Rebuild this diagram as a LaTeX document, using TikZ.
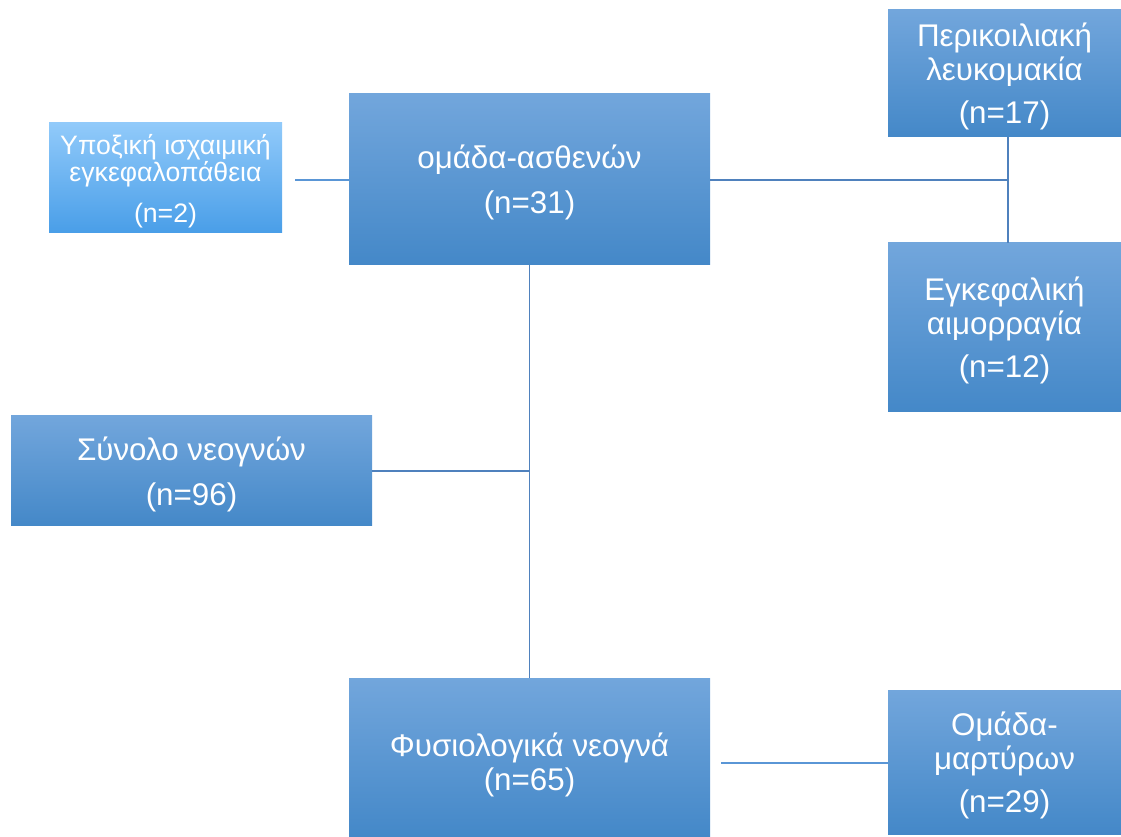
\documentclass[tikz,border=0pt]{standalone}
\usepackage{fontspec}
\setmainfont{Liberation Sans}
\definecolor{btop}{RGB}{114,166,220}
\definecolor{bmid}{RGB}{84,155,222}
\definecolor{bbot}{RGB}{68,136,200}
\definecolor{ltop}{RGB}{145,202,250}
\definecolor{lmid}{RGB}{108,180,242}
\definecolor{lbot}{RGB}{73,158,232}
\definecolor{linec}{RGB}{79,129,189}
\definecolor{linel}{RGB}{90,150,214}
\begin{document}
\begin{tikzpicture}[x=0.75pt,y=-0.75pt,
  box/.style={draw=none,top color=btop,middle color=bmid,bottom color=bbot,
    text=white,align=center,inner sep=0pt,text depth=0pt,
    font=\fontsize{23.5}{25.5}\selectfont},
  lbox/.style={box,top color=ltop,middle color=lmid,bottom color=lbot,
    font=\fontsize{20}{20.5}\selectfont},
  conn/.style={draw=linec,line width=1.4pt},
  connl/.style={draw=linel,line width=1.6pt}]
\useasboundingbox (0,0) rectangle (1121,837);
\node[lbox,minimum width=174.75pt,minimum height=82.5pt] (hyp) at (165.5,178)
  {Υποξική ισχαιμική\\εγκεφαλοπάθεια\\[10pt](n=2)};
\node[box,minimum width=270.75pt,minimum height=128.25pt] (om) at (529.5,179.5)
  {ομάδα-ασθενών\\[8pt](n=31)};
\node[box,minimum width=174.75pt,minimum height=95.25pt] (peri) at (1004.5,73.5)
  {Περικοιλιακή\\λευκομακία\\[6.5pt](n=17)};
\node[box,minimum width=174.75pt,minimum height=126.75pt] (egk) at (1004.5,327.5)
  {Εγκεφαλική\\αιμορραγία\\[6.5pt](n=12)};
\node[box,minimum width=270.75pt,minimum height=82.5pt] (syn) at (191.5,471)
  {Σύνολο νεογνών\\[8.5pt](n=96)};
\node[box,minimum width=270.75pt,minimum height=119.25pt] (fys) at (529.5,757.5)
  {\rule{0pt}{24pt}Φυσιολογικά νεογνά\\(n=65)};
\node[box,minimum width=174.75pt,minimum height=108pt] (mart) at (1004.5,762)
  {Ομάδα-\\μαρτύρων\\[6.5pt](n=29)};
% connectors
\coordinate (hs) at (295,180);
\draw[connl] (hs) -- (hs -| om.west);
\coordinate (jr) at (1008,180);
\draw[conn] (om.east |- jr) -- (jr);
\draw[conn] (jr |- peri.south) -- (jr |- egk.north);
\draw[conn] (om.south) -- (fys.north);
\draw[conn] (syn.east) -- (syn.east -| om.south);
\coordinate (bs) at (721,763);
\draw[connl] (bs) -- (bs -| mart.west);
\end{tikzpicture}
\end{document}
